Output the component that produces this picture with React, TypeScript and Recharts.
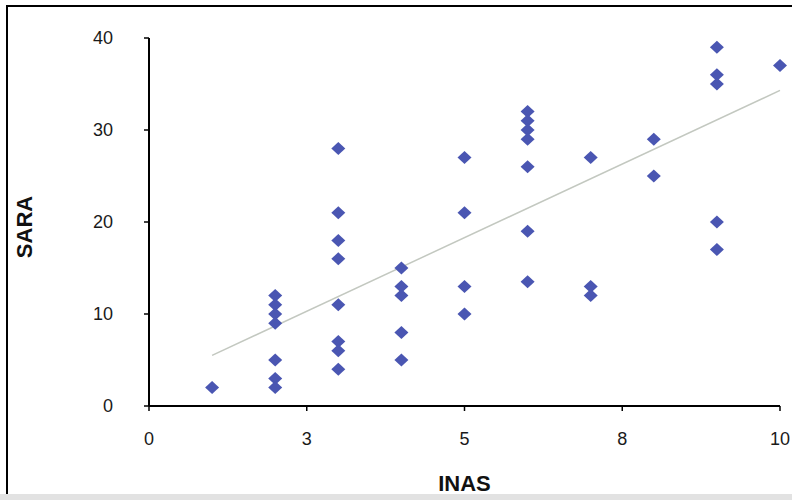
import { Label, Scatter, ScatterChart, XAxis, YAxis } from "recharts";

// INAS score (x) and SARA score (y) for each patient
const inas = [
  1,
  2, 2, 2, 2, 2, 2, 2,
  3, 3, 3, 3, 3, 3, 3, 3,
  4, 4, 4, 4, 4,
  5, 5, 5, 5,
  6, 6, 6, 6, 6, 6, 6,
  7, 7, 7,
  8, 8,
  9, 9, 9, 9, 9,
  10,
];
const sara = [
  2,
  12, 11, 10, 9, 5, 3, 2,
  28, 21, 18, 16, 11, 7, 6, 4,
  15, 13, 12, 8, 5,
  27, 21, 13, 10,
  32, 31, 30, 29, 26, 19, 13.5,
  27, 13, 12,
  29, 25,
  39, 36, 35, 20, 17,
  37,
];

// linear trendline ends
const trendX = [1, 10];
const trendY = [5.5, 34.3];

const xTicks = [0, 2.5, 5, 7.5, 10];
const xTickLabels = ["0", "3", "5", "8", "10"];
const yTicks = [0, 10, 20, 30, 40];

const points = inas.map((x, i) => ({ x, y: sara[i] }));
const trend = trendX.map((x, i) => ({ x, y: trendY[i] }));

const font = "'Liberation Sans', Arial, Helvetica, sans-serif";

function Diamond(props: any) {
  const { cx, cy } = props;
  if (cx == null || cy == null) return null;
  const w = 7;
  const h = 6.5;
  return (
    <polygon
      points={`${cx},${cy - h} ${cx + w},${cy} ${cx},${cy + h} ${cx - w},${cy}`}
      fill="#4a56b2"
    />
  );
}

export default function App() {
  return (
    <div style={{ position: "absolute", left: 0, top: 0, width: 792, height: 500, background: "#fff", overflow: "hidden" }}>
      <div
        style={{
          position: "absolute",
          left: 6,
          top: 5,
          width: 820,
          height: 500,
          borderLeft: "2px solid #000",
          borderTop: "2px solid #000",
        }}
      />
      <div style={{ position: "absolute", left: 0, top: 494, width: 792, height: 6, background: "#e2e2e2" }} />
      <div style={{ position: "absolute", left: 0, top: 0 }}>
        <ScatterChart width={792} height={500} margin={{ top: 38, right: 12, bottom: 34, left: 0 }}>
          <XAxis
            type="number"
            dataKey="x"
            domain={[0, 10]}
            ticks={xTicks}
            tickFormatter={(v: number) => xTickLabels[xTicks.indexOf(v)] ?? String(v)}
            height={60}
            axisLine={{ stroke: "#000", strokeWidth: 2 }}
            tickLine={{ stroke: "#000", strokeWidth: 1.5 }}
            tickSize={5}
            tickMargin={21}
            tick={{ fill: "#1a1a1a", fontSize: 18, fontFamily: font }}
            interval={0}
          >
            <Label
              value="INAS"
              position="bottom"
              offset={9}
              style={{ fill: "#111", fontSize: 22, fontWeight: "bold", fontFamily: font }}
            />
          </XAxis>
          <YAxis
            type="number"
            dataKey="y"
            domain={[0, 40]}
            ticks={yTicks}
            width={149}
            axisLine={{ stroke: "#000", strokeWidth: 2 }}
            tickLine={{ stroke: "#000", strokeWidth: 1.5 }}
            tickSize={5}
            tickMargin={31}
            tick={{ fill: "#1a1a1a", fontSize: 18, fontFamily: font }}
            interval={0}
          >
            <Label
              value="SARA"
              angle={-90}
              position="insideLeft"
              offset={24}
              dy={5}
              style={{ fill: "#111", fontSize: 22, fontWeight: "bold", fontFamily: font, textAnchor: "middle" }}
            />
          </YAxis>
          <Scatter
            data={trend}
            line={{ stroke: "#c3c8c0", strokeWidth: 1.5 }}
            shape={() => null}
            isAnimationActive={false}
          />
          <Scatter data={points} shape={Diamond} isAnimationActive={false} />
        </ScatterChart>
      </div>
    </div>
  );
}
